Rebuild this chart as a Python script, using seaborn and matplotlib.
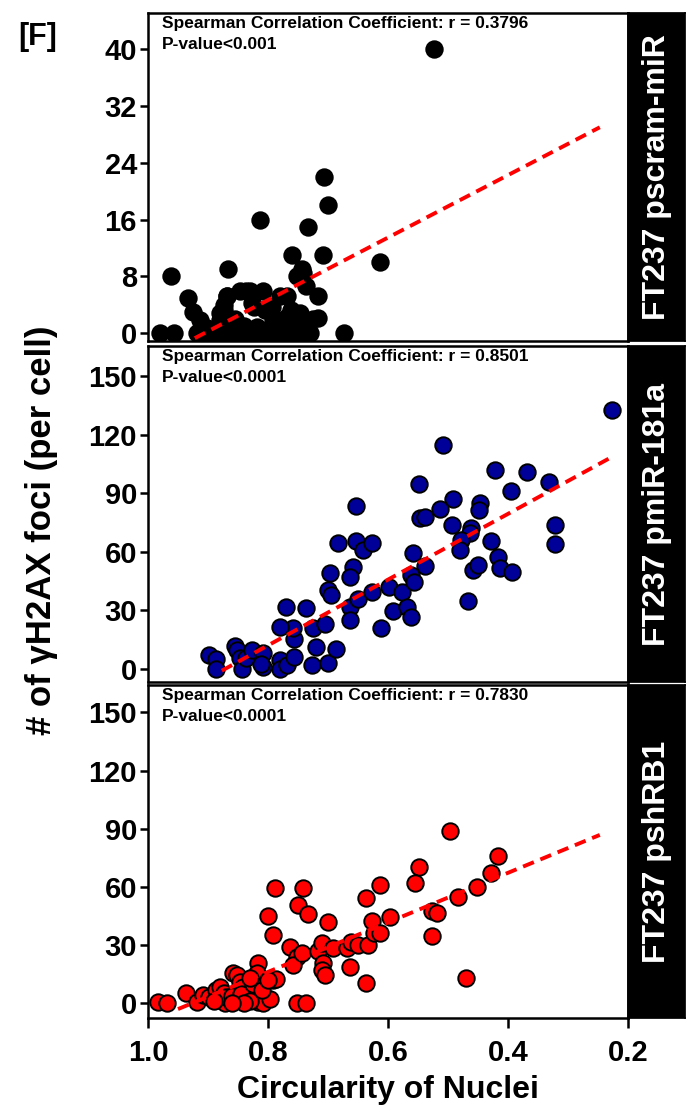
import matplotlib
matplotlib.use("Agg")
import matplotlib.pyplot as plt
import pandas as pd
import seaborn as sns

sns.set_theme(style="ticks")
plt.rcParams['font.family'] = ['Liberation Sans', 'DejaVu Sans']
plt.rcParams['font.weight'] = 'bold'
for key in ("text.color", "axes.labelcolor", "xtick.color", "ytick.color", "axes.edgecolor"):
    plt.rcParams[key] = "black"

# ---- FT237 pscram-miR ----
scram_circ = [0.98, 0.957, 0.962, 0.934, 0.925, 0.913, 0.902, 0.918, 0.905, 0.892,
              0.880, 0.865, 0.850, 0.835, 0.820, 0.806, 0.790, 0.775, 0.760, 0.745,
              0.730, 0.866, 0.869, 0.874, 0.880, 0.847, 0.830, 0.808, 0.836, 0.813,
              0.824, 0.802, 0.791, 0.780, 0.769, 0.827, 0.805, 0.794, 0.761, 0.747,
              0.744, 0.741, 0.744, 0.736, 0.769, 0.774, 0.736, 0.716, 0.716, 0.760,
              0.752, 0.709, 0.733, 0.706, 0.700, 0.614, 0.673, 0.523, 0.819, 0.869,
              0.874, 0.880, 0.855, 0.840, 0.785, 0.756, 0.725]
scram_foci = [0, 0, 8, 4.9, 3.0, 1.9, 0.7, 0, 0, 0,
              0, 0, 0, 0, 0, 0, 0, 0, 0, 0,
              0, 9, 5.2, 3.3, 1.9, 6, 6, 6, 6, 16,
              3.7, 3.3, 1.9, 5.2, 5.2, 4.2, 3.3, 3.7, 3.3, 2.8,
              9, 8.5, 7.7, 6.6, 2.3, 1.9, 0.9, 2.1, 5.2, 11,
              8, 11, 15, 22, 18, 10, 0, 40, 0.9, 5.2,
              4, 2.8, 2, 1, 1.5, 1, 2]
scram_fit_circ = [0.922, 0.247]
scram_fit_foci = [-0.7, 29.0]

# ---- FT237 pmiR-181a ----
mir_circ = [0.898, 0.886, 0.887, 0.855, 0.851, 0.847, 0.844, 0.836, 0.827, 0.808,
            0.808, 0.812, 0.780, 0.780, 0.769, 0.756, 0.757, 0.759, 0.780, 0.770,
            0.737, 0.725, 0.720, 0.726, 0.700, 0.686, 0.705, 0.700, 0.695, 0.697,
            0.683, 0.653, 0.653, 0.642, 0.627, 0.659, 0.664, 0.663, 0.664, 0.650,
            0.627, 0.599, 0.591, 0.612, 0.577, 0.227, 0.508, 0.422, 0.369, 0.331,
            0.395, 0.548, 0.491, 0.447, 0.448, 0.513, 0.547, 0.538, 0.494, 0.461,
            0.463, 0.478, 0.480, 0.429, 0.416, 0.413, 0.394, 0.458, 0.450, 0.466,
            0.322, 0.322, 0.558, 0.538, 0.561, 0.557, 0.569, 0.562]
mir_foci = [7.2, 5, 0, 11.8, 9.7, 5.5, 0, 5.5, 9.7, 8,
            1.2, 2.5, 4.6, 0, 2, 6.3, 15.2, 20.9, 21.7, 32,
            31, 20.9, 11.1, 2, 2.9, 10.1, 23, 40.5, 38, 49,
            64.8, 83.6, 65.8, 61, 64.8, 52.5, 47.3, 32, 25, 35.7,
            39.6, 41.9, 29.9, 20.9, 39.6, 132.8, 114.9, 102, 101.2, 96,
            91, 94.9, 87, 85, 81.5, 82, 77.3, 78, 73.8, 72.1,
            69.6, 66.2, 61, 65.6, 57.6, 51.6, 49.9, 50.8, 53.3, 35,
            73.8, 64, 59.3, 52.8, 48.2, 44.8, 32, 26.8]
mir_fit_circ = [0.877, 0.224]
mir_fit_foci = [-0.9, 109.2]

# ---- FT237 pshRB1 ----
rb_circ = [0.983, 0.969, 0.936, 0.919, 0.908, 0.899, 0.886, 0.880, 0.874, 0.883,
           0.872, 0.858, 0.852, 0.847, 0.841, 0.852, 0.836, 0.816, 0.819, 0.822,
           0.816, 0.808, 0.797, 0.791, 0.786, 0.788, 0.800, 0.792, 0.741, 0.750,
           0.734, 0.700, 0.763, 0.752, 0.758, 0.744, 0.752, 0.736, 0.716, 0.710,
           0.708, 0.710, 0.705, 0.692, 0.669, 0.661, 0.650, 0.633, 0.624, 0.627,
           0.636, 0.614, 0.637, 0.664, 0.596, 0.497, 0.416, 0.428, 0.452, 0.484,
           0.548, 0.555, 0.526, 0.518, 0.526, 0.613, 0.470, 0.870, 0.860, 0.845,
           0.830, 0.825, 0.810, 0.800, 0.830, 0.840, 0.860, 0.890]
rb_foci = [0.8, 0, 5.2, 0.8, 4.3, 3.4, 6.9, 8.6, 5.2, 1.7,
           0, 15.5, 14.6, 11.1, 8.6, 2.6, 2.1, 20.6, 15.5, 6.9,
           0.8, 0, 2.1, 12, 12.4, 59.3, 45, 35.2, 59.3, 50.7,
           46, 41.8, 29.2, 24, 19.7, 26.1, 0, 0, 27.1, 30.9,
           20.6, 17.2, 14.6, 28.7, 28.7, 31.8, 30.1, 30.1, 36.2, 42.2,
           54.1, 61, 10.3, 18.9, 44.3, 89, 75.9, 67, 60.1, 55,
           70.1, 62.2, 47.7, 46.7, 34.8, 36, 12.9, 3, 4, 5,
           1, 10, 7, 12, 13, 0, 0, 1]
rb_fit_circ = [0.95, 0.247]
rb_fit_foci = [-3.0, 86.8]

groups = ["FT237 pscram-miR", "FT237 pmiR-181a", "FT237 pshRB1"]
spearman_r = ["0.3796", "0.8501", "0.7830"]
p_values = ["P-value<0.001", "P-value<0.0001", "P-value<0.0001"]
point_colors = ["#000000", "#000099", "#FF0000"]
y_ticks = [[0, 8, 16, 24, 32, 40], [0, 30, 60, 90, 120, 150], [0, 30, 60, 90, 120, 150]]
x_ticks = [1.0, 0.8, 0.6, 0.4, 0.2]

panels = [
    pd.DataFrame({"circ": scram_circ, "foci": scram_foci}),
    pd.DataFrame({"circ": mir_circ, "foci": mir_foci}),
    pd.DataFrame({"circ": rb_circ, "foci": rb_foci}),
]
fits = [(scram_fit_circ, scram_fit_foci), (mir_fit_circ, mir_fit_foci), (rb_fit_circ, rb_fit_foci)]

# layout in pixels
W, H = 690, 1108
LEFT, RIGHT, STRIP_R = 148, 628, 685
rows = [(13, 341), (346, 682), (685, 1018)]
ylims = [(-1.1, 45.1), (-6.7, 165.6), (-7.6, 164.1)]


def frac(l, t, r, b):
    return [l / W, 1 - b / H, (r - l) / W, (b - t) / H]


fig = plt.figure(figsize=(W / 100, H / 100), dpi=100)

for i, (df, (fx, fy)) in enumerate(zip(panels, fits)):
    top, bot = rows[i]
    ax = fig.add_axes(frac(LEFT, top, RIGHT, bot))
    sns.scatterplot(data=df, x="circ", y="foci", ax=ax, s=140, color=point_colors[i],
                    edgecolor="black", linewidth=1.4, legend=False, zorder=3)
    ax.plot(fx, fy, color="#FF0000", lw=2.8, linestyle=(0, (3, 1.8)), zorder=4)
    ax.set_xlim(1.0, 0.2)
    ax.set_ylim(*ylims[i])
    ax.set_yticks(y_ticks[i])
    ax.set_xticks(x_ticks)
    ax.set_xlabel("")
    ax.set_ylabel("")
    for sp in ax.spines.values():
        sp.set_linewidth(1.8)
        sp.set_color("black")
    ax.tick_params(axis="y", left=True, direction="out", length=6, width=1.8,
                   labelsize=21, pad=2, colors="black")
    if i < 2:
        ax.tick_params(axis="x", bottom=False, labelbottom=False)
    else:
        ax.set_xticklabels([f"{t:.1f}" for t in x_ticks])
        ax.tick_params(axis="x", bottom=True, direction="out", length=7, width=1.8,
                       labelsize=21, pad=8, colors="black")
    for lab in ax.get_xticklabels() + ax.get_yticklabels():
        lab.set_fontweight("bold")
    ph = bot - top
    ax.text(14 / 480, 1 - 3 / ph, f"Spearman Correlation Coefficient: r = {spearman_r[i]}",
            transform=ax.transAxes, ha="left", va="top", fontsize=12.5, fontweight="bold",
            color="black")
    ax.text(14 / 480, 1 - 24 / ph, p_values[i],
            transform=ax.transAxes, ha="left", va="top", fontsize=12.5, fontweight="bold",
            color="black")

    # black label strip
    sx = fig.add_axes(frac(RIGHT, top, STRIP_R, bot))
    sx.set_facecolor("black")
    for sp in sx.spines.values():
        sp.set_color("black")
    sx.set_xticks([])
    sx.set_yticks([])
    sx.text(0.5, 0.5, groups[i], rotation=90, ha="center", va="center", color="white",
            fontsize=23, fontweight="bold", transform=sx.transAxes)

fig.text(38 / W, 1 - 37 / H, "[F]", ha="center", va="center", fontsize=22,
         fontweight="bold", color="black")
fig.text(42 / W, 1 - 530 / H, "# of γH2AX foci (per cell)", rotation=90, ha="center",
         va="center", fontsize=25, fontweight="bold", color="black")
fig.text(388 / W, 1 - 1090 / H, "Circularity of Nuclei", ha="center", va="center",
         fontsize=23, fontweight="bold", color="black")

fig.savefig("out.png", dpi=100)
